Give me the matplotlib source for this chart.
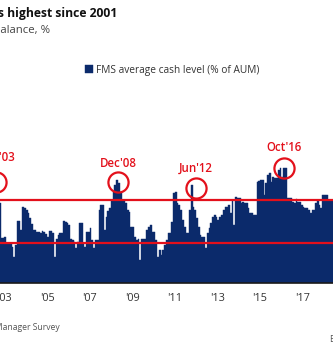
import numpy as np
import matplotlib
matplotlib.use("Agg")
import matplotlib.pyplot as plt

plt.rcParams['font.family'] = ['Open Sans', 'DejaVu Sans']

# FMS average cash level (% of AUM), monthly from Jan 2003
cash = [
    3.90, 4.00, 4.20, 4.43, 3.62, 3.62, 3.64, 3.50, 3.50, 3.50, 3.41, 3.17,
    3.45, 4.01, 4.01, 3.80, 4.34, 4.31, 4.27, 4.20, 4.08, 3.94, 3.80, 3.80,
    3.76, 3.76, 3.73, 3.78, 3.76, 3.71, 3.64, 3.78, 3.78, 3.73, 3.17, 3.59,
    3.69, 3.73, 3.73, 4.01, 3.99, 3.97, 3.92, 3.59, 3.57, 3.52, 3.38, 3.52,
    3.97, 3.97, 3.50, 3.41, 3.76, 3.76, 3.85, 3.57, 3.38, 3.57, 3.57, 4.27,
    4.38, 4.38, 3.80, 4.10, 4.24, 4.31, 4.50, 4.69, 4.85, 4.97, 4.90, 4.69,
    4.50, 4.50, 4.43, 4.27, 4.22, 3.87, 3.87, 3.64, 3.57, 3.59, 3.10, 3.59,
    3.59, 3.59, 3.80, 3.87, 3.92, 3.76, 3.76, 3.57, 3.17, 3.34, 3.22, 3.34,
    3.45, 3.57, 3.73, 3.73, 3.99, 4.66, 4.69, 4.43, 4.38, 4.27, 4.03, 3.87,
    3.73, 3.73, 4.27, 4.85, 4.34, 4.27, 4.08, 3.87, 3.69, 3.64, 3.64, 3.38,
    3.73, 3.85, 3.97, 4.10, 4.15, 4.10, 4.03, 4.10, 4.15, 4.27, 4.34, 4.34,
    4.38, 4.20, 4.50, 3.92, 4.57, 4.55, 4.55, 4.43, 4.45, 4.43, 4.43, 4.31,
    4.20, 4.20, 4.15, 4.15, 4.92, 4.94, 4.97, 4.97, 4.62, 4.90, 5.08, 5.13,
    4.92, 5.03, 5.01, 5.01, 5.20, 5.24, 5.03, 5.24, 5.24, 4.55, 4.55, 4.55,
    4.45, 4.43, 4.52, 4.45, 4.45, 4.38, 4.34, 4.31, 4.31, 4.27, 4.20, 4.27,
    4.27, 4.43, 4.50, 4.38, 4.31, 4.62, 4.62, 4.62, 4.50, 4.50, 4.50, 4.50,
]
months = np.arange(len(cash))

year_labels = ["'03", "'05", "'07", "'09", "'11", "'13", "'15", "'17"]
year_ticks = [6, 30, 54, 78, 102, 126, 150, 174]

upper_level = 4.5
lower_level = 3.5

# highlighted peaks
peak_names = ["Mar'03", "Dec'08", "Jun'12", "Oct'16"]
peak_x = [1.2, 70.0, 113.9, 163.5]
peak_y = [4.92, 4.92, 4.78, 5.24]
label_y = [5.48, 5.34, 5.24, 5.73]

navy = '#0b2a6b'
red = '#e3101b'

fig = plt.figure(figsize=(3.33, 3.6), dpi=100)
# axes deliberately wider than the figure (the source is a crop)
ax = fig.add_axes([-6.2 / 333, 77 / 360, 340.8 / 333, 143 / 360])

bars = ax.bar(months, cash, width=1.0, align='edge', color=navy,
              edgecolor=navy, linewidth=0.3, label='FMS average cash level (% of AUM)')
ax.axhline(upper_level, color=red, lw=1.6, zorder=3)
ax.axhline(lower_level, color=red, lw=1.6, zorder=3)

ax.set_xlim(0, 192)
ax.set_ylim(2.57, 5.895)

ax.plot(peak_x, peak_y, 'o', ms=14.5, mfc='none', mec=red, mew=1.6,
        zorder=4, clip_on=False)
for name, x, y in zip(peak_names, peak_x, label_y):
    ax.text(x, y, name, color=red, fontsize=8.3, fontweight='semibold',
            ha='center', va='center')

ax.set_xticks(year_ticks)
ax.set_xticklabels(year_labels, fontsize=7.8, color='#333333')
ax.tick_params(axis='x', length=0, pad=7)
ax.set_yticks([])
for s in ['top', 'left', 'right']:
    ax.spines[s].set_visible(False)
ax.spines['bottom'].set_color('#1a1a1a')
ax.spines['bottom'].set_linewidth(1.2)

ax.legend(loc='center', bbox_to_anchor=(172 / 333, 1 - 70 / 360),
          bbox_transform=fig.transFigure, frameon=False, fontsize=7.3,
          handlelength=0.8, handleheight=0.8, handletextpad=0.25,
          labelcolor='#333333')

fig.text(117 / 333, 1 - 14 / 360, 'Cash is highest since 2001', ha='right',
         va='center', fontsize=8.7, fontweight='bold', color='#111111')
fig.text(50 / 333, 1 - 30 / 360, 'FMS average cash balance, %', ha='right',
         va='center', fontsize=8.2, color='#444444')
fig.text(60 / 333, 1 - 327 / 360, 'Source: BofA Merrill Lynch Global Fund Manager Survey',
         ha='right', va='center', fontsize=6.2, color='#555555')
fig.text(330 / 333, 1 - 340 / 360, 'BofA Merrill Lynch Global Research',
         ha='left', va='center', fontsize=6.5, color='#555555')

fig.savefig('out.png', dpi=100)
